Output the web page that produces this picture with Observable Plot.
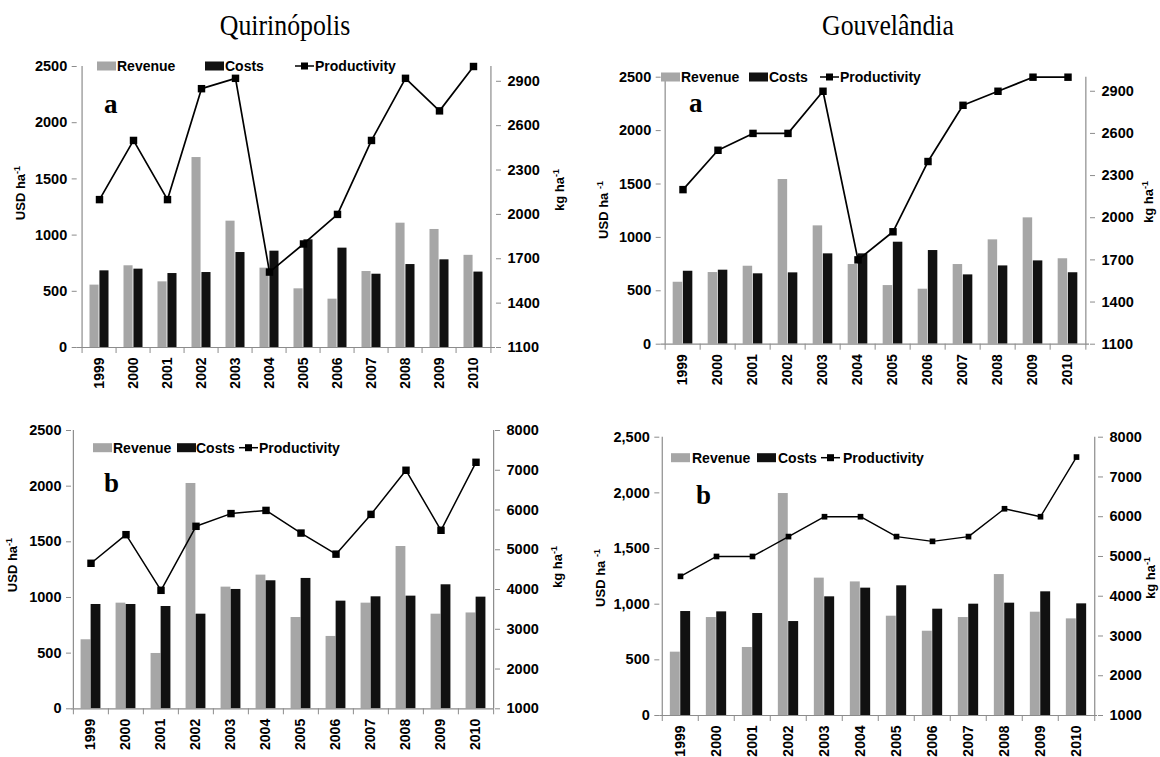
<!DOCTYPE html>
<html>
<head>
<meta charset="utf-8">
<script src="https://cdn.jsdelivr.net/npm/d3@7"></script>
<script src="https://cdn.jsdelivr.net/npm/@observablehq/plot@0.6"></script>
<style>
  html, body { margin: 0; padding: 0; background: #fff; }
  body { width: 1160px; height: 757px; position: relative; overflow: hidden; font-family: "Liberation Sans", Arial, sans-serif; }
  .title { position: absolute; top: 10px; font-family: "Liberation Serif", "Times New Roman", serif; font-size: 30px; color: #000; transform: translateX(-50%) scaleX(0.86); white-space: nowrap; line-height: 1; }
  .panel { position: absolute; }
</style>
</head>
<body>
<div class="title" id="t0" style="left:285px"></div>
<div class="title" id="t1" style="left:888px"></div>
<div class="panel" id="p1" style="left:0px;top:40px"></div>
<div class="panel" id="p2" style="left:580px;top:40px"></div>
<div class="panel" id="p3" style="left:0px;top:410px"></div>
<div class="panel" id="p4" style="left:580px;top:410px"></div>
<script>
// ---------------- DATA ----------------
const years = [1999, 2000, 2001, 2002, 2003, 2004, 2005, 2006, 2007, 2008, 2009, 2010];
const titles = ["Quirinópolis", "Gouvelândia"];
const legendLabels = ["Revenue", "Costs", "Productivity"];
const usdTicks = [0, 500, 1000, 1500, 2000, 2500];
const kgTicksA = [1100, 1400, 1700, 2000, 2300, 2600, 2900];
const kgDomainA = [1100, 3000];
const kgTicksB = [1000, 2000, 3000, 4000, 5000, 6000, 7000, 8000];
const kgDomainB = [1000, 8000];

// Quirinópolis (a)
const quiA_revenue = [555, 727, 584, 1690, 1124, 706, 522, 430, 676, 1106, 1050, 820];
const quiA_costs   = [682, 697, 658, 667, 845, 857, 958, 884, 652, 738, 780, 671];
const quiA_prod    = [2100, 2500, 2100, 2850, 2920, 1610, 1800, 2000, 2500, 2920, 2700, 3000];
// Gouvelândia (a)
const gouA_revenue = [580, 671, 730, 1542, 1108, 746, 549, 515, 746, 977, 1183, 800];
const gouA_costs   = [683, 693, 659, 668, 846, 846, 955, 877, 649, 733, 780, 669];
const gouA_prod    = [2200, 2480, 2600, 2600, 2900, 1700, 1900, 2400, 2800, 2900, 3000, 3000];
// Quirinópolis (b)
const quiB_revenue = [620, 949, 497, 2024, 1093, 1201, 820, 650, 949, 1458, 850, 861];
const quiB_costs   = [937, 937, 919, 850, 1072, 1150, 1171, 967, 1006, 1012, 1114, 1003];
const quiB_prod    = [4660, 5380, 3980, 5590, 5910, 5990, 5420, 4890, 5890, 7000, 5490, 7200];
// Gouvelândia (b)
const gouB_revenue = [569, 880, 611, 1994, 1234, 1200, 892, 757, 880, 1266, 928, 868];
const gouB_costs   = [934, 931, 916, 844, 1066, 1144, 1165, 955, 1000, 1009, 1111, 1003];
const gouB_prod    = [4500, 5000, 5000, 5500, 6000, 6000, 5500, 5380, 5500, 6200, 6000, 7500];

// ---------------- DRAW ----------------
document.getElementById("t0").textContent = titles[0];
document.getElementById("t1").textContent = titles[1];

const GRAY = "#a6a6a6", BLACK = "#111111", AXIS = "#8c8c8c";
const FONT = "'Liberation Sans', Arial, sans-serif";

function drawPanel(cfg) {
  const {el, width, height, ml, mr, mt, mb, revenue, costs, prod, kgDomain, kgTicks,
         usdFormat, usdText, letter, legend, letterPos, usdPos, kgPos, dotR, lineW} = cfg;
  const bw = (width - ml - mr) / years.length;
  const barW = bw * 0.285;
  const rows = years.map((yr, i) => ({year: String(yr), revenue: revenue[i], costs: costs[i], prod: prod[i]}));
  const [k0, k1] = kgDomain;
  const toUsd = p => (p - k0) / (k1 - k0) * 2500;
  const fromUsd = v => Math.round(k0 + v / 2500 * (k1 - k0));
  const plotH = height - mt - mb;
  const tickData = 6 * 2500 / plotH;
  const yrs = years.map(String);

  const svg = Plot.plot({
    width, height,
    marginLeft: ml, marginRight: mr, marginTop: mt, marginBottom: mb,
    style: {fontFamily: FONT, fontSize: "14.5px", fontWeight: "bold", color: "#000", background: "transparent", overflow: "visible"},
    x: {domain: yrs, padding: 0, label: null},
    y: {domain: [0, 2500], label: null},
    marks: [
      Plot.barY(rows, {x: "year", y: "revenue", fill: GRAY, insetLeft: bw / 2 - barW, insetRight: bw / 2}),
      Plot.barY(rows, {x: "year", y: "costs", fill: BLACK, insetLeft: bw / 2, insetRight: bw / 2 - barW}),
      Plot.ruleY([0], {stroke: AXIS, strokeWidth: 1.2}),
      Plot.ruleX([yrs[0]], {x: d => d, dx: -bw / 2, stroke: AXIS, strokeWidth: 1.2}),
      Plot.ruleX([yrs[yrs.length - 1]], {x: d => d, dx: bw / 2, stroke: AXIS, strokeWidth: 1.2}),
      Plot.ruleX(yrs, {x: d => d, dx: -bw / 2, y1: 0, y2: -tickData, stroke: AXIS}),
      Plot.ruleX([yrs[yrs.length - 1]], {x: d => d, dx: bw / 2, y1: 0, y2: -tickData, stroke: AXIS}),
      Plot.lineY(rows, {x: "year", y: d => toUsd(d.prod), stroke: "#000", strokeWidth: lineW}),
      Plot.dot(rows, {x: "year", y: d => toUsd(d.prod), symbol: "square", fill: "#000", r: dotR}),
      Plot.axisY({ticks: usdTicks, tickFormat: usdFormat, tickSize: 5, tickPadding: 5, stroke: AXIS, fill: "#000", label: null}),
      Plot.axisY({anchor: "right", ticks: kgTicks.map(toUsd), tickFormat: v => String(fromUsd(v)), tickSize: 5, tickPadding: 7, stroke: AXIS, fill: "#000", label: null}),
      Plot.axisX({tickSize: 0, tickRotate: -90, tickPadding: 10, fontSize: 14, fill: "#000", label: null})
    ]
  });

  const s = d3.select(svg);
  const g = s.append("g").attr("font-family", FONT).attr("font-weight", "bold")
    .attr("fill", "#000").attr("text-anchor", "start");

  // axis titles
  const usd = g.append("text").attr("transform", `translate(${usdPos[0]},${usdPos[1]}) rotate(-90)`)
    .attr("text-anchor", "middle").attr("dy", "0.35em").attr("font-size", 13);
  usd.append("tspan").text(usdText[0]);
  usd.append("tspan").attr("font-size", 9).attr("dy", -5).text(usdText[1]);
  const kg = g.append("text").attr("transform", `translate(${kgPos[0]},${kgPos[1]}) rotate(-90)`)
    .attr("text-anchor", "middle").attr("dy", "0.35em").attr("font-size", 13);
  kg.append("tspan").text("kg ha");
  kg.append("tspan").attr("font-size", 9).attr("dy", -5).text("-1");

  // panel letter
  g.append("text").attr("x", letterPos[0]).attr("y", letterPos[1])
    .attr("font-family", "'Liberation Serif', 'Times New Roman', serif").attr("font-size", 27).text(letter);

  // legend
  const ly = legend.y;
  g.append("rect").attr("x", legend.sw1).attr("y", ly - 4.5).attr("width", 19).attr("height", 9).attr("fill", GRAY);
  g.append("text").attr("x", legend.t1).attr("y", ly).attr("dy", "0.36em").attr("font-size", 14).text(legendLabels[0]);
  g.append("rect").attr("x", legend.sw2).attr("y", ly - 4.5).attr("width", 19).attr("height", 9).attr("fill", BLACK);
  g.append("text").attr("x", legend.t2).attr("y", ly).attr("dy", "0.36em").attr("font-size", 14).text(legendLabels[1]);
  g.append("line").attr("x1", legend.sw3).attr("x2", legend.sw3 + 19).attr("y1", ly).attr("y2", ly).attr("stroke", "#000").attr("stroke-width", 1.5);
  g.append("rect").attr("x", legend.sw3 + 9.5 - 3.5).attr("y", ly - 3.5).attr("width", 7).attr("height", 7).attr("fill", "#000");
  g.append("text").attr("x", legend.t3).attr("y", ly).attr("dy", "0.36em").attr("font-size", 14).text(legendLabels[2]);

  document.getElementById(el).appendChild(svg);
}

const plainFmt = d => String(d);

drawPanel({el: "p1", width: 580, height: 370, ml: 76.7, mr: 85, mt: 26, mb: 63,
  revenue: quiA_revenue, costs: quiA_costs, prod: quiA_prod, kgDomain: kgDomainA, kgTicks: kgTicksA,
  usdFormat: plainFmt, usdText: ["USD ha", "-1"], letter: "a",
  legend: {y: 26, sw1: 97, t1: 117, sw2: 205, t2: 225, sw3: 295, t3: 315},
  letterPos: [104, 73], usdPos: [20, 153], kgPos: [559, 150], dotR: 4.2, lineW: 1.7});

drawPanel({el: "p2", width: 580, height: 370, ml: 80.7, mr: 71, mt: 36.7, mb: 66.3,
  revenue: gouA_revenue, costs: gouA_costs, prod: gouA_prod, kgDomain: kgDomainA, kgTicks: kgTicksA,
  usdFormat: plainFmt, usdText: ["USD ha ", "-1"], letter: "a",
  legend: {y: 37, sw1: 81, t1: 101, sw2: 169, t2: 189, sw3: 240, t3: 260},
  letterPos: [109, 72], usdPos: [23, 170], kgPos: [568, 162], dotR: 4.2, lineW: 1.7});

drawPanel({el: "p3", width: 580, height: 347, ml: 71, mr: 86, mt: 20, mb: 48.7,
  revenue: quiB_revenue, costs: quiB_costs, prod: quiB_prod, kgDomain: kgDomainB, kgTicks: kgTicksB,
  usdFormat: plainFmt, usdText: ["USD ha", "-1"], letter: "b",
  legend: {y: 37.7, sw1: 93, t1: 113, sw2: 177, t2: 196, sw3: 239, t3: 259},
  letterPos: [104, 82], usdPos: [12, 155], kgPos: [557, 157], dotR: 4.2, lineW: 1.5});

drawPanel({el: "p4", width: 580, height: 347, ml: 79.3, mr: 63, mt: 26.7, mb: 42,
  revenue: gouB_revenue, costs: gouB_costs, prod: gouB_prod, kgDomain: kgDomainB, kgTicks: kgTicksB,
  usdFormat: d3.format(","), usdText: ["USD ha ", "-1"], letter: "b",
  legend: {y: 47.7, sw1: 91, t1: 112, sw2: 177, t2: 198, sw3: 241, t3: 263},
  letterPos: [116, 94], usdPos: [20, 168], kgPos: [570, 168], dotR: 3.2, lineW: 1.4});
</script>
</body>
</html>
